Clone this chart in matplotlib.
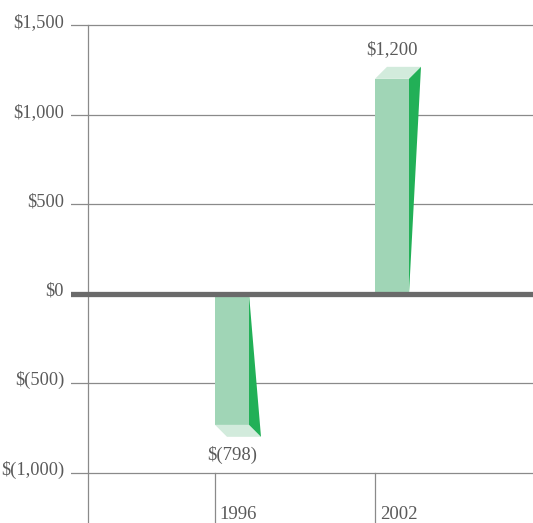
import matplotlib.pyplot as plt
from matplotlib.patches import Polygon
from matplotlib.transforms import ScaledTranslation

# Data
years = ["1996", "2002"]
values = [-798, 1200]
value_labels = ["$(798)", "$1,200"]
tick_values = [1500, 1000, 500, 0, -500, -1000]
tick_labels = ["$1,500", "$1,000", "$500", "$0", "$(500)", "$(1,000)"]

front_color = "#a0d5b6"
cap_color = "#d2ebdc"
side_color = "#22b057"
text_color = "#5a5a5a"
grid_color = "#8a8a8a"

plt.rcParams["font.family"] = ["Liberation Serif", "DejaVu Serif"]

fig = plt.figure(figsize=(5.33, 5.23), dpi=100)
ax = fig.add_axes([71 / 533, 0, 1 - 71 / 533, 1])
ax.set_xlim(-0.9, 1.9875)
ax.set_ylim(-1279, 1640)

bar_w = 0.2125   # bar width in x units
dx = 0.075       # depth in x units
dy = 67          # depth in data units

# grid lines and axis
for t in tick_values:
    if t == 0:
        ax.axhline(0, color="#6a6a6a", lw=3.8, zorder=4)
    else:
        ax.axhline(t, color=grid_color, lw=0.9, zorder=1)
ax.plot([-0.794, -0.794], [1500, -1279], color=grid_color, lw=0.9, zorder=1)

ax.set_yticks(tick_values)
ax.set_yticklabels(tick_labels, fontsize=13.2, color=text_color)
ax.tick_params(axis="y", length=0, pad=5)
shift = ScaledTranslation(0, -2 / 100, fig.dpi_scale_trans)
for lbl in ax.get_yticklabels():
    lbl.set_va("baseline")
    lbl.set_transform(lbl.get_transform() + shift)
ax.set_xticks([])
for s in ax.spines.values():
    s.set_visible(False)

for i, (yr, v, lab) in enumerate(zip(years, values, value_labels)):
    x0 = i
    x1 = i + bar_w
    if v > 0:
        front = [(x0, 0), (x1, 0), (x1, v), (x0, v)]
        cap = [(x0, v), (x1, v), (x1 + dx, v + dy), (x0 + dx, v + dy)]
        side = [(x1, 0), (x1, v), (x1 + dx, v + dy)]
        ax.text(x0 + bar_w / 2, v + dy + 95, lab, ha="center", va="center",
                fontsize=13.5, color=text_color)
    else:
        vf = v + dy
        front = [(x0, 0), (x1, 0), (x1, vf), (x0, vf)]
        cap = [(x0, vf), (x1, vf), (x1 + dx, v), (x0 + dx, v)]
        side = [(x1, 0), (x1, vf), (x1 + dx, v)]
        ax.text(x0 + bar_w / 2, v - 100, lab, ha="center", va="center",
                fontsize=13.5, color=text_color)
    ax.add_patch(Polygon(front, closed=True, fc=front_color, ec="none", zorder=3))
    ax.add_patch(Polygon(cap, closed=True, fc=cap_color, ec="none", zorder=3))
    ax.add_patch(Polygon(side, closed=True, fc=side_color, ec="none", zorder=3))

    # category divider and year label
    ax.plot([x0, x0], [-1000, -1279], color=grid_color, lw=0.9, zorder=1)
    ax.text(x0 + 0.03, -1255, yr, ha="left", va="baseline",
            fontsize=13.5, color=text_color)

fig.savefig("out.png", dpi=100)
